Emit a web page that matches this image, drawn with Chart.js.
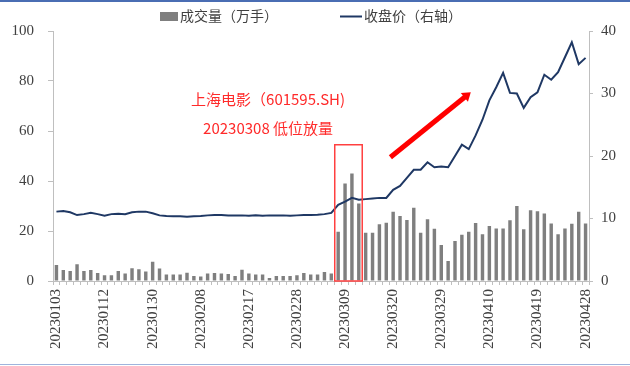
<!DOCTYPE html>
<html>
<head>
<meta charset="utf-8">
<script src="https://cdn.jsdelivr.net/npm/chart.js@4.4.0/dist/chart.umd.min.js"></script>
<style>
  html, body { margin: 0; padding: 0; background: #fff; }
  #wrap { position: relative; width: 630px; height: 366px; }
  #wrap:before { content: ""; position: absolute; left: 0; right: 0; top: 0; border-top: 2px solid #4a6db3; }
  #wrap:after { content: ""; position: absolute; left: 0; right: 0; bottom: 1px; border-top: 1px solid #9fb4dc; }
</style>
</head>
<body>
<div id="wrap"><canvas id="c" width="630" height="366"></canvas></div>
<script>
// ---- data ----
const dates = [
  '20230103','20230104','20230105','20230106','20230109','20230110','20230111','20230112','20230113',
  '20230116','20230117','20230118','20230119','20230120','20230130','20230131',
  '20230201','20230202','20230203','20230206','20230207','20230208','20230209','20230210',
  '20230213','20230214','20230215','20230216','20230217','20230220','20230221','20230222','20230223','20230224',
  '20230227','20230228',
  '20230301','20230302','20230303','20230306','20230307','20230308','20230309','20230310',
  '20230313','20230314','20230315','20230316','20230317','20230320','20230321','20230322','20230323','20230324',
  '20230327','20230328','20230329','20230330','20230331',
  '20230403','20230404','20230406','20230407','20230410','20230411','20230412','20230413','20230414',
  '20230417','20230418','20230419','20230420','20230421','20230424','20230425','20230426','20230427','20230428'
];
const volume = [
  6.4, 4.4, 4.0, 6.7, 4.0, 4.4, 3.2, 2.3, 2.3, 4.0, 3.0, 5.1, 4.7, 3.8, 7.7, 5.0, 2.6, 2.6, 2.6, 3.3, 2.0,
  1.8, 3.0, 3.2, 3.0, 2.8, 2.0, 4.5, 3.0, 2.6, 2.6, 1.2, 2.0, 2.0, 2.0, 2.3, 3.2, 2.6, 2.6, 3.6, 3.0,
  19.7, 39.0, 43.0, 31.0, 19.3, 19.3, 22.7, 23.3, 27.7, 26.0, 24.4, 29.3, 19.3, 24.7, 20.9, 14.4, 8.0, 16.0,
  18.5, 19.7, 23.2, 18.7, 22.0, 21.0, 21.0, 24.3, 30.0, 20.7, 28.3, 27.9, 27.0, 23.0, 18.7, 21.0, 22.9, 27.7, 23.0
];
const closePrice = [
  11.1, 11.2, 11.0, 10.55, 10.7, 10.9, 10.7, 10.45, 10.7, 10.75, 10.7, 11.0, 11.1, 11.1, 10.85, 10.5,
  10.4, 10.35, 10.35, 10.3, 10.35, 10.4, 10.5, 10.55, 10.55, 10.5, 10.5, 10.5, 10.45, 10.5, 10.45, 10.5,
  10.5, 10.5, 10.45, 10.5, 10.55, 10.55, 10.6, 10.7, 10.9,
  12.2, 12.7, 13.3, 13.0, 13.1, 13.2, 13.3, 13.3, 14.6, 15.2, 16.5, 17.8, 17.8, 19.0, 18.2, 18.3, 18.2, 20.0,
  21.8, 21.1, 23.3, 25.8, 28.9, 31.0, 33.3, 30.1, 30.0, 27.7, 29.4, 30.2, 33.0, 32.2, 33.4, 35.8, 38.2, 34.7, 35.7
];
const seriesNames = ['成交量（万手）', '收盘价（右轴）'];
const noteLines = ['上海电影（601595.SH)', '20230308 低位放量'];
const boxRange = [41, 44];   // highlighted days
const labelStep = 7;

const GRAY = '#7f7f7f';
const NAVY = '#1f3864';
const RED = '#ff2a2a';
const AXIS = '#bfbfbf';
const serif = '"Liberation Serif", "DejaVu Serif", serif';
const cjk = '"Noto Sans CJK SC", "Noto Sans", sans-serif';

// legend + red annotations
const extras = {
  id: 'extras',
  afterDatasetsDraw(chart) {
    const ctx = chart.ctx;
    const x = chart.scales.x, y = chart.scales.y;
    const half = (x.getPixelForValue(1) - x.getPixelForValue(0)) / 2;
    ctx.save();
    // box around the volume spike
    ctx.strokeStyle = '#ff4040';
    ctx.lineWidth = 1.5;
    const bx0 = x.getPixelForValue(boxRange[0]) - half;
    const bx1 = x.getPixelForValue(boxRange[1]) + half;
    const by0 = y.getPixelForValue(54.5), by1 = y.getPixelForValue(0);
    ctx.strokeRect(bx0, by0, bx1 - bx0, by1 - by0);
    // note text
    ctx.fillStyle = RED;
    ctx.font = '15px ' + cjk;
    ctx.textAlign = 'center';
    ctx.textBaseline = 'middle';
    const tx = x.getPixelForValue(30.8);
    ctx.fillText(noteLines[0], tx, y.getPixelForValue(72.8));
    ctx.fillText(noteLines[1], tx, y.getPixelForValue(61.2));
    // arrow
    const ax0 = x.getPixelForValue(48.6), ay0 = y.getPixelForValue(49.5);
    const ax1 = x.getPixelForValue(60.3), ay1 = y.getPixelForValue(75.5);
    const ang = Math.atan2(ay1 - ay0, ax1 - ax0);
    ctx.strokeStyle = '#ff0000';
    ctx.fillStyle = '#ff0000';
    ctx.lineWidth = 5;
    ctx.lineCap = 'butt';
    ctx.beginPath();
    ctx.moveTo(ax0, ay0);
    ctx.lineTo(ax1 - Math.cos(ang) * 6, ay1 - Math.sin(ang) * 6);
    ctx.stroke();
    ctx.beginPath();
    ctx.moveTo(ax1, ay1);
    ctx.lineTo(ax1 - Math.cos(ang - 0.6) * 10, ay1 - Math.sin(ang - 0.6) * 10);
    ctx.lineTo(ax1 - Math.cos(ang + 0.6) * 10, ay1 - Math.sin(ang + 0.6) * 10);
    ctx.closePath();
    ctx.fill();
    ctx.restore();
  },
  afterDraw(chart) {
    const ctx = chart.ctx;
    ctx.save();
    ctx.font = '14px ' + cjk;
    ctx.textBaseline = 'middle';
    ctx.textAlign = 'left';
    ctx.fillStyle = GRAY;
    ctx.fillRect(160, 12, 18, 9);
    ctx.fillStyle = '#404040';
    ctx.fillText(seriesNames[0], 180, 16);
    ctx.strokeStyle = NAVY;
    ctx.lineWidth = 2;
    ctx.beginPath();
    ctx.moveTo(340, 16.5);
    ctx.lineTo(362, 16.5);
    ctx.stroke();
    ctx.fillText(seriesNames[1], 364, 16);
    ctx.restore();
  }
};

new Chart(document.getElementById('c'), {
  type: 'bar',
  data: {
    labels: dates,
    datasets: [
      {
        type: 'line',
        label: seriesNames[1],
        data: closePrice,
        yAxisID: 'y1',
        borderColor: NAVY,
        borderWidth: 2,
        pointRadius: 0,
        tension: 0,
        order: 1
      },
      {
        type: 'bar',
        label: seriesNames[0],
        data: volume,
        yAxisID: 'y',
        backgroundColor: GRAY,
        barPercentage: 0.5,
        categoryPercentage: 1,
        order: 2
      }
    ]
  },
  options: {
    responsive: false,
    animation: false,
    layout: { padding: { top: 31, bottom: 0, left: 0, right: 0 } },
    plugins: { legend: { display: false }, tooltip: { enabled: false } },
    scales: {
      x: {
        offset: true,
        grid: { display: true, drawOnChartArea: false, tickLength: 4, color: AXIS, offset: true },
        border: { color: AXIS },
        ticks: {
          autoSkip: false,
          minRotation: 90,
          maxRotation: 90,
          padding: 4,
          color: '#404040',
          font: { family: serif, size: 15 },
          callback: (v, i) => (i % labelStep === 0 ? dates[i] : '')
        },
        afterFit: s => { s.height = 85; }
      },
      y: {
        position: 'left',
        min: 0, max: 100,
        ticks: { stepSize: 20, color: '#404040', padding: 14, font: { family: serif, size: 15 } },
        grid: { display: true, drawOnChartArea: false, tickLength: 5, color: AXIS },
        border: { color: AXIS },
        afterFit: s => { s.width = 53; }
      },
      y1: {
        position: 'right',
        min: 0, max: 40,
        ticks: { stepSize: 10, color: '#404040', padding: 8, font: { family: serif, size: 15 } },
        grid: { display: true, drawOnChartArea: false, tickLength: 4, color: AXIS },
        border: { color: AXIS },
        afterFit: s => { s.width = 41; }
      }
    }
  },
  plugins: [extras]
});
</script>
</body>
</html>
